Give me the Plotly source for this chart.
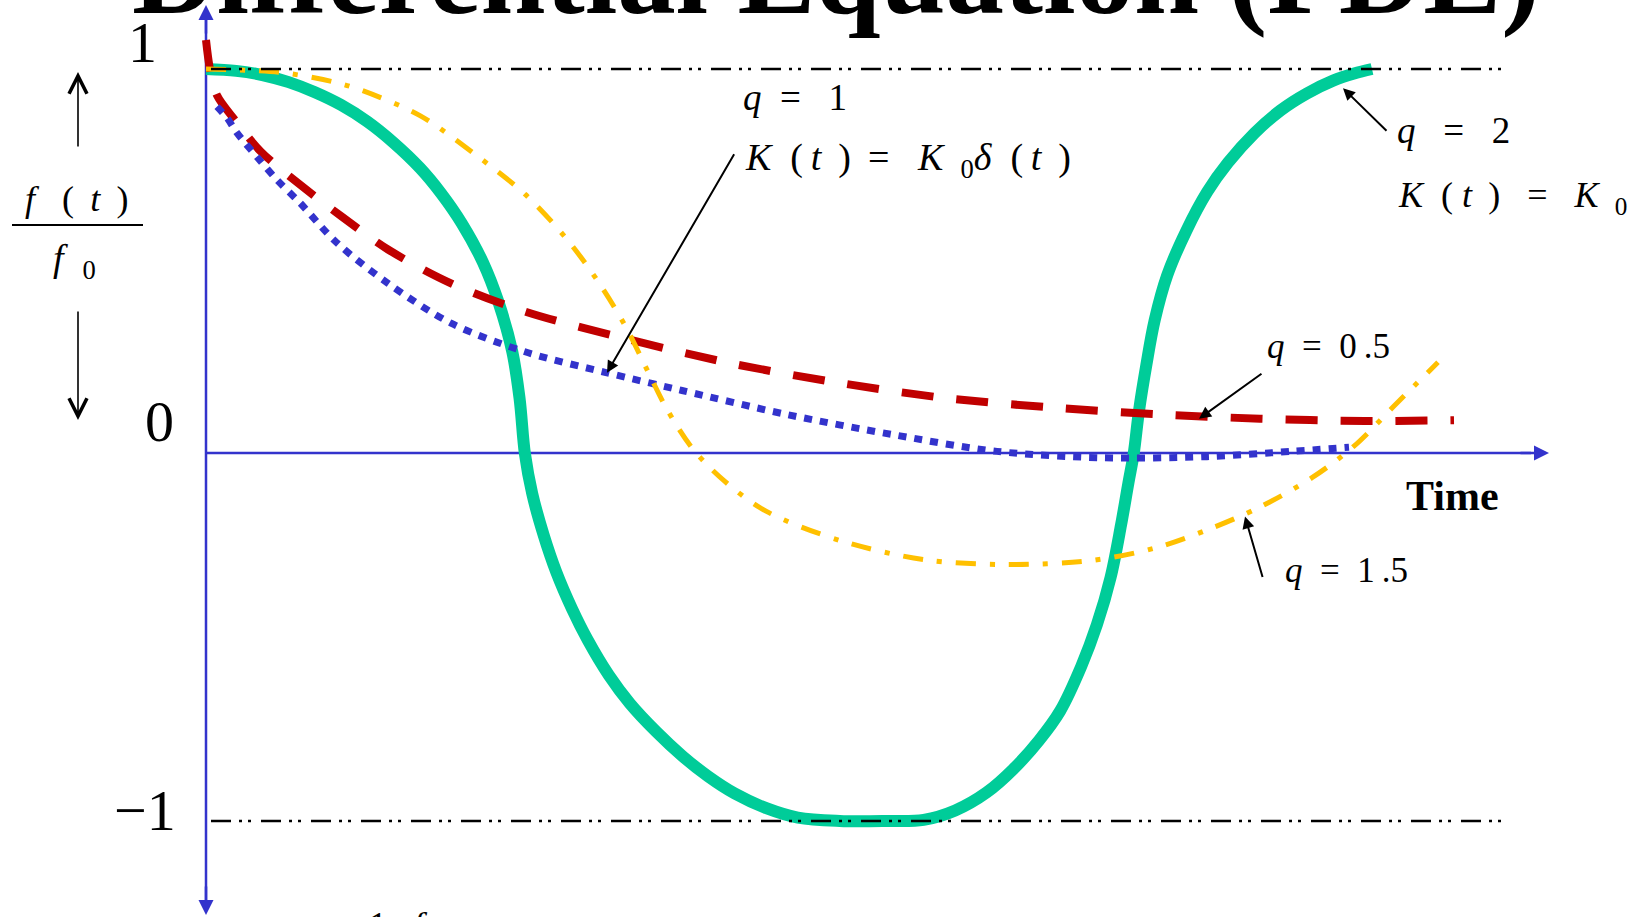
import plotly.graph_objects as go

W, H = 1646, 917

# ---- response curves f(t)/f0 for the different orders q (time in arbitrary units) ----
t_q2 = [0.0, 0.302, 0.564, 0.827, 1.089, 1.352, 1.614, 1.876, 2.139, 2.349, 2.559, 2.769,
        2.926, 3.063, 3.136, 3.189, 3.262, 3.377, 3.503, 3.661, 3.818, 4.028, 4.238, 4.501,
        4.763, 5.025, 5.288, 5.603, 5.918, 6.338, 6.810, 7.177, 7.492, 7.807, 8.070, 8.332,
        8.542, 8.752, 8.909, 9.046, 9.151, 9.224, 9.277, 9.329, 9.403, 9.487, 9.613, 9.802,
        10.012, 10.221, 10.484, 10.746, 11.009, 11.271, 11.481, 11.660]
f_q2 = [1.0, 0.995, 0.984, 0.965, 0.938, 0.904, 0.860, 0.804, 0.737, 0.670, 0.589, 0.486,
        0.379, 0.248, 0.123, -0.023, -0.129, -0.240, -0.338, -0.436, -0.519, -0.612, -0.687,
        -0.762, -0.827, -0.882, -0.927, -0.966, -0.991, -1.0, -1.0, -0.997, -0.972, -0.924,
        -0.863, -0.785, -0.707, -0.589, -0.478, -0.352, -0.212, -0.101, -0.023, 0.089, 0.212,
        0.332, 0.452, 0.569, 0.673, 0.751, 0.829, 0.890, 0.935, 0.969, 0.988, 1.0]

t_q05 = [0.0, 0.04, 0.11, 0.29, 0.55, 1.01, 1.35, 1.82, 2.45, 3.19, 4.24, 5.29, 6.34, 7.39,
         8.44, 9.49, 10.54, 11.59, 12.48]
f_q05 = [1.077, 0.999, 0.93, 0.864, 0.78, 0.678, 0.609, 0.52, 0.43, 0.355, 0.28, 0.215,
         0.165, 0.125, 0.10, 0.082, 0.07, 0.064, 0.066]

t_q1 = [0.11, 0.21, 0.31, 0.51, 0.71, 0.94, 1.30, 1.82, 2.45, 3.19, 4.01, 4.76, 5.81, 6.86,
        7.91, 8.96, 10.01, 10.85, 11.43]
f_q1 = [0.90, 0.87, 0.83, 0.766, 0.705, 0.644, 0.54, 0.43, 0.324, 0.248, 0.192, 0.145, 0.081,
        0.028, -0.017, -0.034, -0.031, -0.017, -0.006]

t_q15 = [0.0, 0.74, 1.27, 1.56, 2.14, 2.66, 3.19, 3.61, 3.92, 4.19, 4.40, 4.61, 4.87, 5.18,
         5.60, 6.34, 7.18, 8.02, 8.86, 9.49, 10.01, 10.54, 11.06, 11.48, 11.90, 12.32]
f_q15 = [1.0, 0.991, 0.966, 0.943, 0.876, 0.779, 0.667, 0.547, 0.435, 0.318, 0.206, 0.095,
         -0.011, -0.095, -0.176, -0.254, -0.305, -0.318, -0.307, -0.274, -0.226, -0.165,
         -0.087, -0.003, 0.109, 0.220]

# y-axis tick labels and the bounding levels
y_ticks = [1, 0, -1]
y_tick_text = ["1", "0", "\u22121"]
bound_levels = [1, -1]

SERIF = "Liberation Serif, Times New Roman, serif"
BLUE = "#3333CC"
NB = "\u00a0"      # no-break space
TH = "\u2009"      # thin space

X_RANGE = [-2.06, 14.40]
Y_RANGE = [-1.2553, 1.1835]
AXIS_Y = 453       # pixel row of the time axis


def px(x):
    return x / W


def py(y):
    return 1 - y / H


fig = go.Figure()

fig.add_trace(go.Scatter(x=t_q2, y=f_q2, mode="lines",
                         line=dict(color="#00CC99", width=12, shape="spline", smoothing=1.0,
                                   simplify=False)))
fig.add_trace(go.Scatter(x=t_q05, y=f_q05, mode="lines",
                         line=dict(color="#C00000", width=8, dash="32px,23px",
                                   shape="spline", smoothing=0.9, simplify=False)))
fig.add_trace(go.Scatter(x=t_q1, y=f_q1, mode="lines",
                         line=dict(color=BLUE, width=7, dash="8px,8px",
                                   shape="spline", smoothing=0.9, simplify=False)))
fig.add_trace(go.Scatter(x=t_q15, y=f_q15, mode="lines",
                         line=dict(color="#FFC000", width=5, dash="20px,14px,5px,14px",
                                   shape="spline", smoothing=0.9, simplify=False)))

shapes = []
# axis lines (under the curves)
shapes.append(dict(type="line", xref="x", yref="paper", x0=0, x1=0,
                   y0=py(14), y1=py(906), layer="below",
                   line=dict(color=BLUE, width=2.5)))
shapes.append(dict(type="line", xref="x", yref="paper", x0=0, x1=13.25,
                   y0=py(AXIS_Y), y1=py(AXIS_Y), layer="below",
                   line=dict(color=BLUE, width=2.5)))
# dash-dot-dot bounds at +1 and -1
for lv in bound_levels:
    shapes.append(dict(type="line", xref="x", yref="y", x0=0.05, x1=12.97, y0=lv, y1=lv,
                       layer="above",
                       line=dict(color="black", width=2.4,
                                 dash="20px,8px,3px,6px,3px,10px")))
# fraction bar of the y label
shapes.append(dict(type="line", xref="paper", yref="paper", x0=px(12), x1=px(143),
                   y0=py(225), y1=py(225), line=dict(color="black", width=2)))

ann = []


def text(s, x, y, size, xanchor="left", color="black"):
    ann.append(dict(text=s, xref="paper", yref="paper", x=px(x), y=py(y),
                    xanchor=xanchor, yanchor="middle", showarrow=False,
                    font=dict(family=SERIF, size=size, color=color)))


def pointer(xh, yh, dx, dy, color="black", width=2, head=2, size=1.2):
    # head at data point (xh, yh); tail offset (dx, dy) in pixels
    ann.append(dict(x=xh, y=yh, xref="x", yref="y", ax=dx, ay=dy, text="",
                    showarrow=True, arrowhead=head, arrowsize=size, arrowwidth=width,
                    arrowcolor=color))


# axis arrow heads
ann.append(dict(x=0, y=py(5), xref="x", yref="paper", ax=0, ay=30, text="", showarrow=True,
                arrowhead=2, arrowsize=1.2, arrowwidth=2.5, arrowcolor=BLUE))
ann.append(dict(x=0, y=py(915), xref="x", yref="paper", ax=0, ay=-30, text="", showarrow=True,
                arrowhead=2, arrowsize=1.2, arrowwidth=2.5, arrowcolor=BLUE))
ann.append(dict(x=13.43, y=py(AXIS_Y), xref="x", yref="paper", ax=-30, ay=0, text="",
                showarrow=True, arrowhead=2, arrowsize=1.2, arrowwidth=2.5, arrowcolor=BLUE))

# tick labels of the y axis
tick_px = {1: (142, 43), 0: (159, 421), -1: (145, 810)}
for v, s in zip(y_ticks, y_tick_text):
    x0, y0 = tick_px[v]
    text(s, x0, y0, 58, xanchor="center")

# y label f(t)/f0 with up and down arrows
text("<i>f</i>" + NB * 3 + "(" + NB + TH + "<i>t</i>" + NB + TH + ")", 76, 199, 36,
     xanchor="center")
text("<i>f</i>" + NB * 2 + "<sub>0</sub>", 74, 261, 38, xanchor="center")
ann.append(dict(x=px(78), y=py(72), xref="paper", yref="paper", ax=0, ay=76, text="",
                showarrow=True, arrowhead=5, arrowsize=2.2, arrowwidth=1.6, arrowcolor="black"))
ann.append(dict(x=px(78), y=py(420), xref="paper", yref="paper", ax=0, ay=-110, text="",
                showarrow=True, arrowhead=5, arrowsize=2.2, arrowwidth=1.6, arrowcolor="black"))

# x label
text("<b>Time</b>", 1404, 496, 42)

# curve labels
text("<i>q</i>" + NB * 2 + "=" + NB * 3 + "1", 741, 98, 37)
text("<i>K</i>" + NB * 2 + "(" + TH + "<i>t</i>" + NB + TH + ")" + NB + TH + "=" + NB * 3 +
     "<i>K</i>" + NB + TH + "<sub>0</sub><i>\u03b4</i>" + NB * 2 + "(" + TH + "<i>t</i>" +
     NB + TH + ")", 743, 160, 38)
text("<i>q</i>" + NB * 3 + "=" + NB * 3 + "2", 1395, 131, 37)
text("<i>K</i>" + NB * 2 + "(" + NB + "<i>t</i>" + NB + TH + ")" + NB * 3 + "=" + NB * 3 +
     "<i>K</i>" + NB + TH + "<sub>0</sub>", 1396, 197, 36)
text("<i>q</i>" + NB * 2 + "=" + NB * 2 + "0" + TH + ".5", 1265, 346, 35)
text("<i>q</i>" + NB * 2 + "=" + NB * 2 + "1" + TH + ".5", 1283, 570, 35)

# pointers from labels to curves
pointer(4.01, 0.192, 128, -220)
pointer(11.37, 0.949, 45, 44)
pointer(9.93, 0.07, 64, -46)
pointer(10.39, -0.19, 18, 62)

# heading of the slide, running off the top edge
ann.append(dict(text="<b>Differential Equation (FDE)</b>", xref="paper", yref="paper",
                x=px(130), y=1 + 26.5 / H, xanchor="left", yanchor="middle", showarrow=False,
                font=dict(family=SERIF, size=117, color="black")))
# formula running off the bottom edge
text("1", 378, 925, 36, xanchor="center")
text("<i>f</i>", 420, 925, 36, xanchor="center")

fig.update_layout(
    width=W, height=H, autosize=False,
    margin=dict(l=0, r=0, t=0, b=0, pad=0),
    paper_bgcolor="white", plot_bgcolor="white",
    showlegend=False,
    xaxis=dict(range=X_RANGE, visible=False, fixedrange=True),
    yaxis=dict(range=Y_RANGE, visible=False, fixedrange=True),
    shapes=shapes, annotations=ann,
    font=dict(family=SERIF),
)

fig.write_html("out.html", config={"displayModeBar": False})
